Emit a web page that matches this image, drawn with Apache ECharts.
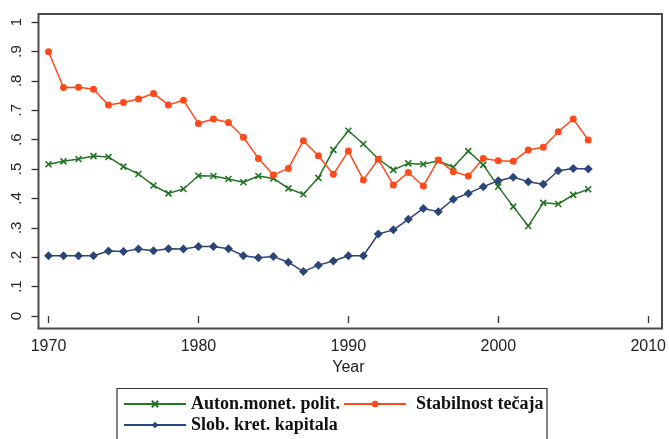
<!DOCTYPE html>
<html>
<head>
<meta charset="utf-8">
<title>Auton / Stabilnost / Slob</title>
<script src="https://cdn.jsdelivr.net/npm/echarts@6/dist/echarts.min.js"></script>
<style>
  html, body { margin: 0; padding: 0; background: #fff; }
  #chart { width: 669px; height: 439px; }
</style>
</head>
<body>
<div id="chart"></div>
<script>
// years on the x axis
const years = [1970, 1971, 1972, 1973, 1974, 1975, 1976, 1977, 1978, 1979,
  1980, 1981, 1982, 1983, 1984, 1985, 1986, 1987, 1988, 1989,
  1990, 1991, 1992, 1993, 1994, 1995, 1996, 1997, 1998, 1999,
  2000, 2001, 2002, 2003, 2004, 2005, 2006]

// index values
const autonMonet = [0.516, 0.526, 0.534, 0.544, 0.541, 0.508, 0.483, 0.444, 0.417, 0.432,
  0.477, 0.476, 0.466, 0.455, 0.476, 0.468, 0.434, 0.414, 0.470, 0.565,
  0.630, 0.585, 0.534, 0.497, 0.519, 0.516, 0.528, 0.506, 0.561, 0.514,
  0.440, 0.372, 0.306, 0.385, 0.381, 0.412, 0.431]

const stabilnost = [0.899, 0.777, 0.778, 0.771, 0.718, 0.726, 0.738, 0.757, 0.718, 0.734,
  0.655, 0.670, 0.658, 0.608, 0.536, 0.480, 0.502, 0.596, 0.545, 0.482,
  0.561, 0.463, 0.533, 0.446, 0.488, 0.442, 0.531, 0.491, 0.476, 0.536,
  0.528, 0.526, 0.565, 0.574, 0.627, 0.670, 0.599]

const slobKret = [0.205, 0.205, 0.205, 0.205, 0.221, 0.219, 0.228, 0.222, 0.229, 0.228,
  0.236, 0.236, 0.229, 0.205, 0.198, 0.202, 0.183, 0.151, 0.173, 0.187,
  0.205, 0.205, 0.279, 0.293, 0.329, 0.366, 0.355, 0.397, 0.417, 0.440,
  0.460, 0.472, 0.457, 0.448, 0.494, 0.502, 0.500]

const seriesNames = ['Auton.monet. polit.', 'Stabilnost tečaja', 'Slob. kret. kapitala']

const GREEN = '#237323'
const ORANGE = '#ff4a1c'
const BLUE = '#2b4578'

const toPairs = vals => years.map((y, i) => [y, vals[i]])

const chart = echarts.init(document.getElementById('chart'))

const yLabel = v => {
  if (v === 0) return '0'
  if (Math.abs(v - 1) < 1e-9) return '1'
  return '.' + Math.round(v * 10)
}

const legendText = { color: '#111', fontSize: 18, fontWeight: 'bold', fontFamily: 'Liberation Serif' }

const option = {
  animation: false,
  backgroundColor: '#fff',
  grid: { left: 48.5, right: 17, top: 22, bottom: 123 },
  xAxis: {
    type: 'value',
    min: 1970,
    max: 2010,
    interval: 10,
    offset: 12.5,
    name: 'Year',
    nameLocation: 'middle',
    nameGap: 31,
    nameTextStyle: { color: '#222', fontSize: 16, fontFamily: 'Liberation Sans' },
    axisLine: { show: false },
    axisTick: { show: true, length: 7, lineStyle: { color: '#333', width: 1.3 } },
    axisLabel: {
      color: '#222', fontSize: 16, fontFamily: 'Liberation Sans', margin: 10,
      formatter: v => String(v)
    },
    splitLine: { show: false }
  },
  yAxis: {
    type: 'value',
    min: 0,
    max: 1,
    interval: 0.1,
    offset: 10,
    axisLine: { show: false },
    axisTick: { show: true, length: 7, lineStyle: { color: '#333', width: 1.3 } },
    axisLabel: {
      color: '#222', fontSize: 15, fontFamily: 'Liberation Sans',
      rotate: 90, margin: 14, formatter: yLabel
    },
    splitLine: { show: false }
  },
  legend: [
    {
      data: [
        seriesNames[0],
        { name: seriesNames[1], textStyle: { padding: [0, 0, 0, 5] } }
      ],
      left: 123,
      top: 395,
      itemWidth: 62,
      itemHeight: 8,
      itemGap: 3,
      padding: 0,
      textStyle: legendText
    },
    {
      data: [seriesNames[2]],
      left: 123,
      top: 416,
      itemWidth: 62,
      itemHeight: 8,
      padding: 0,
      textStyle: legendText
    }
  ],
  graphic: [
    {
      type: 'rect',
      shape: { x: 38.5, y: 14, width: 623.5, height: 314.5 },
      style: { fill: 'none', stroke: '#4a4a4a', lineWidth: 2 },
      silent: true
    },
    {
      type: 'rect',
      shape: { x: 117, y: 388.5, width: 430, height: 60 },
      style: { fill: 'none', stroke: '#333', lineWidth: 1.2 },
      silent: true
    }
  ],
  series: [
    {
      name: seriesNames[0],
      type: 'line',
      data: toPairs(autonMonet),
      symbol: 'path://M0,0L10,10M10,0L0,10',
      symbolSize: 6,
      lineStyle: { color: GREEN, width: 1.5 },
      itemStyle: { color: GREEN, borderColor: GREEN, borderWidth: 1.6 }
    },
    {
      name: seriesNames[1],
      type: 'line',
      data: toPairs(stabilnost),
      symbol: 'circle',
      symbolSize: 7,
      lineStyle: { color: ORANGE, width: 1.5 },
      itemStyle: { color: ORANGE, borderWidth: 0 }
    },
    {
      name: seriesNames[2],
      type: 'line',
      data: toPairs(slobKret),
      symbol: 'diamond',
      symbolSize: 9,
      lineStyle: { color: BLUE, width: 1.5 },
      itemStyle: { color: BLUE, borderWidth: 0 }
    }
  ]
}

chart.setOption(option)
</script>
</body>
</html>
